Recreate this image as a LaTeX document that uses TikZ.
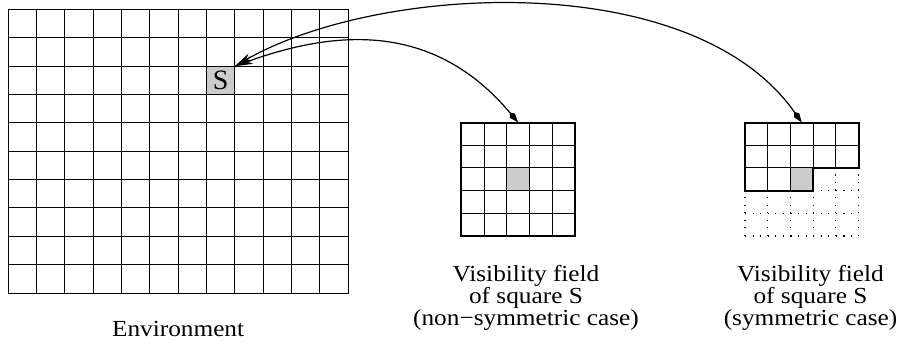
\documentclass[tikz,border=0pt]{standalone}
\usepackage{fontspec}
\setmainfont{Liberation Serif}
\newfontfamily\labelfont[FakeStretch=1.1]{Liberation Serif}
\usetikzlibrary{arrows.meta}
\newcommand{\ecell}{28.35}
\newcommand{\fcell}{22.7}

\begin{document}
\begin{tikzpicture}[
  x=1pt, y=1pt,
  gridline/.style={line width=0.9pt},
  rim/.style={line width=2pt},
  dots/.style={line width=1.2pt, dash pattern=on 1.2pt off 6.37pt},
  cell/.style={draw, line width=0.9pt, fill=gray!40, minimum size=\ecell pt, inner sep=0, outer sep=0, font=\fontsize{28}{28}\selectfont},
  field/.style={minimum size=113.5pt, inner sep=0, outer sep=0},
  txt/.style={font=\labelfont\fontsize{23}{20.5}\selectfont, align=center, inner sep=0},
  link/.style={{Kite[length=13pt,width=6.5pt,inset=4pt]}-{Stealth[length=18pt,width=8pt,inset=5pt]}, line width=1.2pt}
]
\useasboundingbox (0,0) rectangle (899,345);

% environment
\node[draw, gridline, minimum width=340.2pt, minimum height=283.5pt, inner sep=0, outer sep=0] (env) at (178.1,193.75) {};
\begin{scope}[shift={(env.south west)}]
  \foreach \i in {1,...,11} \draw[gridline] (\i*\ecell,0) -- (\i*\ecell,283.5);
  \foreach \j in {1,...,9} \draw[gridline] (0,\j*\ecell) -- (340.2,\j*\ecell);
  \node[cell] (S) at (7.5*\ecell,7.5*\ecell) {S};
\end{scope}

% non-symmetric field
\node[field, draw, rim] (nonsym) at (518.2,165.7) {};
\begin{scope}[shift={(nonsym.south west)}]
  \fill[gray!40] (2*\fcell,2*\fcell) rectangle ++(\fcell,\fcell);
  \foreach \i in {1,...,4} {
    \draw[gridline] (\i*\fcell,0) -- (\i*\fcell,5*\fcell);
    \draw[gridline] (0,\i*\fcell) -- (5*\fcell,\i*\fcell);
  }
\end{scope}

% symmetric field
\node[field] (sym) at (801.75,165.7) {};
\begin{scope}[shift={(sym.south west)}]
  \foreach \i in {0,...,5} \draw[dots] (\i*\fcell,0) -- (\i*\fcell,2*\fcell);
  \foreach \i in {4,5} \draw[dots] (\i*\fcell,2*\fcell) -- (\i*\fcell,3*\fcell);
  \foreach \j in {0,1} \draw[dots] (0,\j*\fcell) -- (5*\fcell,\j*\fcell);
  \draw[dots] (3*\fcell,2*\fcell) -- (5*\fcell,2*\fcell);
  \fill[gray!40] (2*\fcell,2*\fcell) rectangle ++(\fcell,\fcell);
  \foreach \i in {1,...,4} \draw[gridline] (\i*\fcell,3*\fcell) -- (\i*\fcell,5*\fcell);
  \foreach \i in {1,2} \draw[gridline] (\i*\fcell,2*\fcell) -- (\i*\fcell,3*\fcell);
  \draw[gridline] (0,4*\fcell) -- (5*\fcell,4*\fcell);
  \draw[gridline] (0,3*\fcell) -- (3*\fcell,3*\fcell);
  \draw[rim] (0,2*\fcell) -- (0,5*\fcell) -- (5*\fcell,5*\fcell) -- (5*\fcell,3*\fcell)
    -- (3*\fcell,3*\fcell) -- (3*\fcell,2*\fcell) -- cycle;
\end{scope}

\draw[link] (nonsym.north) .. controls +(130:130) and +(20:110) .. (S.north east);
\draw[link] (sym.north) .. controls +(125:190) and +(30:165) .. (S.north east);

\node[txt, anchor=base] (envtxt) at (178.1,8.3) {Environment};
\node[txt, anchor=north] (nonsymtxt) at (526,80) {Visibility field\\of square S\\(non−symmetric case)};
\node[txt, anchor=north] (symtxt) at (810.5,80) {Visibility field\\of square S\\(symmetric case)};
\end{tikzpicture}
\end{document}
